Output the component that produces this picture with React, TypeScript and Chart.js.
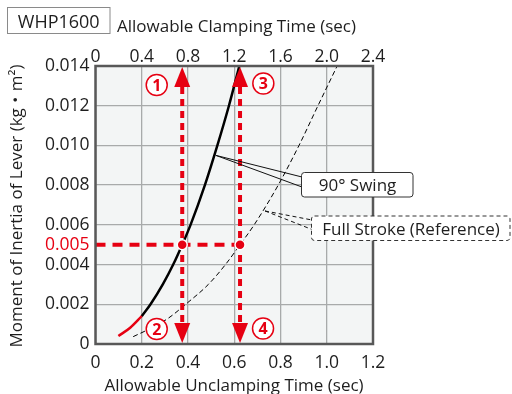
import React, { useEffect, useRef } from 'react';
import { Chart, registerables } from 'chart.js';
Chart.register(...registerables);

const FONT = "'Open Sans', 'Noto Sans CJK JP', sans-serif";
const RED = '#e60012';
const INK = '#1e1e1e';

// bottom axis: Allowable Unclamping Time (sec)
const xTicks = [0, 0.2, 0.4, 0.6, 0.8, 1.0, 1.2];
const xTickLabels = ['0', '0.2', '0.4', '0.6', '0.8', '1.0', '1.2'];
// top axis: Allowable Clamping Time (sec)
const x2Ticks = [0, 0.4, 0.8, 1.2, 1.6, 2.0, 2.4];
const x2TickLabels = ['0', '0.4', '0.8', '1.2', '1.6', '2.0', '2.4'];
// left axis: Moment of Inertia of Lever
const yTicks = [0, 0.002, 0.004, 0.005, 0.006, 0.008, 0.01, 0.012, 0.014];
const yTickLabels = ['0', '0.002', '0.004', '0.005', '0.006', '0.008', '0.010', '0.012', '0.014'];

// 90° Swing curve (solid)
const swingX = [0.2, 0.238, 0.291, 0.336, 0.375, 0.411, 0.473, 0.527, 0.577, 0.622];
const swingY = [0.0014, 0.002, 0.003, 0.004, 0.005, 0.006, 0.008, 0.01, 0.012, 0.014];
// low-end part of 90° Swing (red)
const swingLowX = [0.099, 0.15, 0.2];
const swingLowY = [0.0004, 0.00082, 0.0014];
// Full Stroke (Reference) curve (dashed)
const fullX = [0.163, 0.24, 0.315, 0.39, 0.488, 0.562, 0.625, 0.686, 0.79, 0.88, 0.962, 1.045];
const fullY = [0.00037, 0.0008, 0.0013, 0.002, 0.003, 0.004, 0.005, 0.006, 0.008, 0.01, 0.012, 0.014];

// worked example
const exampleInertia = 0.005;
const exampleX = [0.375, 0.625];
const arrowNumbers = [['1', '2'], ['3', '4']];

// leader anchors
const swingAnchor = { x: 0.52, y: 0.0095 };
const fullAnchor = { x: 0.733, y: 0.0067 };

const zip = (xs: number[], ys: number[]) => xs.map((x, i) => ({ x, y: ys[i] }));

function roundRect(ctx: CanvasRenderingContext2D, x: number, y: number, w: number, h: number, r: number) {
  ctx.beginPath();
  ctx.moveTo(x + r, y);
  ctx.lineTo(x + w - r, y);
  ctx.arcTo(x + w, y, x + w, y + r, r);
  ctx.lineTo(x + w, y + h - r);
  ctx.arcTo(x + w, y + h, x + w - r, y + h, r);
  ctx.lineTo(x + r, y + h);
  ctx.arcTo(x, y + h, x, y + h - r, r);
  ctx.lineTo(x, y + r);
  ctx.arcTo(x, y, x + r, y, r);
  ctx.closePath();
}

function circledNumber(ctx: CanvasRenderingContext2D, cx: number, cy: number, t: string) {
  ctx.save();
  ctx.beginPath();
  ctx.arc(cx, cy, 10.5, 0, Math.PI * 2);
  ctx.fillStyle = '#fff';
  ctx.fill();
  ctx.lineWidth = 1.5;
  ctx.strokeStyle = RED;
  ctx.stroke();
  ctx.fillStyle = RED;
  ctx.font = `bold 16px ${FONT}`;
  ctx.textAlign = 'center';
  ctx.textBaseline = 'middle';
  ctx.fillText(t, cx, cy + 1);
  ctx.restore();
}

const deco = {
  id: 'deco',
  beforeDraw(chart: any) {
    const { ctx, chartArea: a } = chart;
    ctx.save();
    ctx.fillStyle = '#f3f5f5';
    ctx.fillRect(a.left, a.top, a.right - a.left, a.bottom - a.top);
    ctx.restore();
  },
  beforeDatasetDraw(chart: any, args: any) {
    if (args.index !== 0) return;
    const { ctx, chartArea: a, scales } = chart;
    ctx.save();
    exampleX.forEach((v) => {
      const px = scales.x.getPixelForValue(v);
      ctx.strokeStyle = RED;
      ctx.lineWidth = 4;
      ctx.setLineDash([7, 5]);
      ctx.beginPath();
      ctx.moveTo(px, a.top + 21);
      ctx.lineTo(px, a.bottom - 21);
      ctx.stroke();
      ctx.setLineDash([]);
      ctx.fillStyle = RED;
      ctx.beginPath();
      ctx.moveTo(px, a.top + 1);
      ctx.lineTo(px - 8, a.top + 21);
      ctx.lineTo(px + 8, a.top + 21);
      ctx.closePath();
      ctx.fill();
      ctx.beginPath();
      ctx.moveTo(px, a.bottom - 1);
      ctx.lineTo(px - 8, a.bottom - 21);
      ctx.lineTo(px + 8, a.bottom - 21);
      ctx.closePath();
      ctx.fill();
    });
    ctx.restore();
  },
  afterDraw(chart: any) {
    const { ctx, chartArea: a, scales } = chart;
    const xs = scales.x;
    const ys = scales.y;
    ctx.save();
    // frame
    ctx.strokeStyle = '#585858';
    ctx.lineWidth = 2.5;
    ctx.strokeRect(a.left, a.top, a.right - a.left, a.bottom - a.top);

    // circled numbers
    const p1 = xs.getPixelForValue(exampleX[0]);
    const p2 = xs.getPixelForValue(exampleX[1]);
    circledNumber(ctx, p1 - 25.5, a.top + 19, arrowNumbers[0][0]);
    circledNumber(ctx, p1 - 25.5, a.bottom - 15, arrowNumbers[0][1]);
    circledNumber(ctx, p2 + 23.3, a.top + 17.5, arrowNumbers[1][0]);
    circledNumber(ctx, p2 + 23, a.bottom - 15.5, arrowNumbers[1][1]);

    // 90° Swing leader + box
    const sx = xs.getPixelForValue(swingAnchor.x);
    const sy = ys.getPixelForValue(swingAnchor.y);
    ctx.strokeStyle = '#111';
    ctx.lineWidth = 1;
    ctx.beginPath();
    ctx.moveTo(sx, sy);
    ctx.lineTo(302, 177);
    ctx.moveTo(sx, sy);
    ctx.lineTo(302, 187);
    ctx.stroke();
    roundRect(ctx, 301.5, 172.5, 111.5, 24.5, 3);
    ctx.fillStyle = '#fff';
    ctx.fill();
    ctx.strokeStyle = '#333';
    ctx.stroke();
    ctx.fillStyle = INK;
    ctx.font = `17px ${FONT}`;
    ctx.textAlign = 'center';
    ctx.textBaseline = 'alphabetic';
    ctx.fillText('90° Swing', 357.5, 191);

    // Full Stroke leader + box
    const fx = xs.getPixelForValue(fullAnchor.x);
    const fy = ys.getPixelForValue(fullAnchor.y);
    ctx.setLineDash([4, 3]);
    ctx.strokeStyle = '#111';
    ctx.beginPath();
    ctx.moveTo(fx, fy);
    ctx.lineTo(312, 220);
    ctx.moveTo(fx, fy);
    ctx.lineTo(312, 229.5);
    ctx.stroke();
    roundRect(ctx, 311.5, 216, 198.5, 24.5, 3);
    ctx.fillStyle = '#fff';
    ctx.fill();
    ctx.strokeStyle = '#333';
    ctx.stroke();
    ctx.setLineDash([]);
    ctx.fillStyle = INK;
    ctx.fillText('Full Stroke (Reference)', 411, 234.5);

    // model box
    ctx.strokeStyle = '#8a8a8a';
    ctx.lineWidth = 1;
    ctx.strokeRect(7.5, 7.5, 102.5, 26);
    ctx.fillStyle = INK;
    ctx.font = `18px ${FONT}`;
    ctx.fillText('WHP1600', 58.7, 27.5);

    // axis titles
    ctx.font = `17px ${FONT}`;
    ctx.textAlign = 'left';
    ctx.fillText('Allowable Clamping Time (sec)', 117, 32);
    ctx.textAlign = 'center';
    ctx.fillText('Allowable Unclamping Time (sec)', 234, 391);
    ctx.translate(17, 206);
    ctx.rotate(-Math.PI / 2);
    ctx.textBaseline = 'middle';
    ctx.fillText('Moment of Inertia of Lever (kg・m²)', 0, 0);
    ctx.restore();
  },
};

export default function App() {
  const ref = useRef<HTMLCanvasElement>(null);
  useEffect(() => {
    if (!ref.current) return;
    const tickFont = { family: FONT, size: 17.5 };
    const chart = new Chart(ref.current, {
      type: 'line',
      data: {
        datasets: [
          {
            label: 'example points',
            data: exampleX.map((x) => ({ x, y: exampleInertia })),
            showLine: false,
            pointRadius: 5,
            pointBackgroundColor: RED,
            pointBorderColor: '#fff',
            pointBorderWidth: 1.5,
          } as any,
          {
            label: 'example inertia',
            data: [{ x: 0, y: exampleInertia }, { x: exampleX[1], y: exampleInertia }],
            borderColor: RED,
            borderWidth: 4,
            borderDash: [10, 7],
            pointRadius: 0,
          },
          {
            label: '90° Swing (low)',
            data: zip(swingLowX, swingLowY),
            borderColor: RED,
            borderWidth: 2.5,
            pointRadius: 0,
            cubicInterpolationMode: 'monotone',
          },
          {
            label: '90° Swing',
            data: zip(swingX, swingY),
            borderColor: '#000',
            borderWidth: 2.5,
            pointRadius: 0,
            cubicInterpolationMode: 'monotone',
          },
          {
            label: 'Full Stroke (Reference)',
            data: zip(fullX, fullY),
            borderColor: '#000',
            borderWidth: 1,
            borderDash: [5, 3],
            pointRadius: 0,
            cubicInterpolationMode: 'monotone',
          },
        ],
      },
      options: {
        animation: false,
        responsive: false,
        devicePixelRatio: 1,
        layout: { padding: { left: 0, right: 139, top: 0, bottom: 0 } },
        plugins: { legend: { display: false }, tooltip: { enabled: false } },
        scales: {
          x: {
            type: 'linear',
            position: 'bottom',
            min: 0,
            max: 1.2,
            afterBuildTicks: (s: any) => { s.ticks = xTicks.map((value) => ({ value })); },
            afterFit: (s: any) => { s.height = 50; },
            ticks: {
              autoSkip: false,
              maxRotation: 0,
              padding: 9,
              color: INK,
              font: tickFont,
              callback: (_v: any, i: number) => xTickLabels[i],
            },
            grid: { color: '#a8aaaa', lineWidth: 1.3, drawTicks: false },
            border: { display: false },
          },
          x2: {
            type: 'linear',
            axis: 'x',
            position: 'top',
            min: 0,
            max: 2.4,
            afterBuildTicks: (s: any) => { s.ticks = x2Ticks.map((value) => ({ value })); },
            afterFit: (s: any) => { s.height = 66; },
            ticks: {
              autoSkip: false,
              maxRotation: 0,
              padding: -1.5,
              color: INK,
              font: tickFont,
              callback: (_v: any, i: number) => x2TickLabels[i],
            },
            grid: { display: true, drawOnChartArea: false, drawTicks: false, color: 'rgba(0,0,0,0)' },
            border: { display: false },
          },
          y: {
            type: 'linear',
            min: 0,
            max: 0.014,
            afterBuildTicks: (s: any) => { s.ticks = yTicks.map((value) => ({ value })); },
            afterFit: (s: any) => { s.width = 95.5; },
            ticks: {
              autoSkip: false,
              padding: 6,
              font: tickFont,
              color: (c: any) => (c.tick && c.tick.value === exampleInertia ? RED : INK),
              callback: (_v: any, i: number) => yTickLabels[i],
            },
            grid: {
              color: (c: any) => (c.tick && c.tick.value === exampleInertia ? 'rgba(0,0,0,0)' : '#a8aaaa'),
              lineWidth: 1.3,
              drawTicks: false,
            },
            border: { display: false },
          },
        },
      },
      plugins: [deco],
    });
    return () => chart.destroy();
  }, []);
  return (
    <div style={{ position: 'absolute', left: 0, top: 0, width: 512, height: 394 }}>
      <canvas ref={ref} width={512} height={394} style={{ display: 'block' }} />
    </div>
  );
}
